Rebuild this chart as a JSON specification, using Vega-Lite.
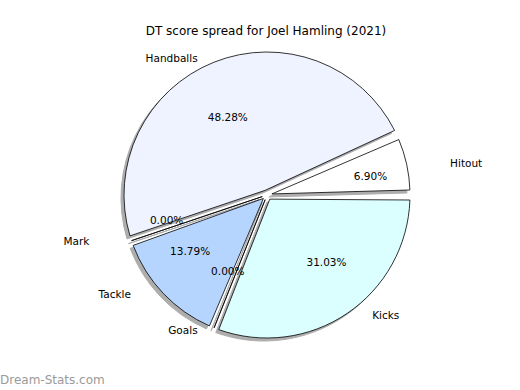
{
  "$schema": "https://vega.github.io/schema/vega-lite/v6.json",
  "background": "white",
  "padding": {"left": 0, "right": 0, "top": 25, "bottom": 0},
  "title": {"text": "DT score spread for Joel Hamling (2021)", "font": "DejaVu Sans", "fontSize": 12, "fontWeight": "normal", "color": "black", "anchor": "middle", "offset": 8, "dx": 6},
  "config": {"view": {"stroke": null}, "concat": {"spacing": 0}},
  "vconcat": [
    {
      "width": 520,
      "height": 298,
      "title": {"text": "Dream-Stats.com", "orient": "bottom", "anchor": "start", "font": "DejaVu Sans", "fontSize": 12, "fontWeight": "normal", "color": "#9a9a9a", "offset": 31},
      "data": {
        "values": [
          {"label": "Hitout", "value": 2, "pct": "6.90%", "ord": 1},
          {"label": "Handballs", "value": 14, "pct": "48.28%", "ord": 2},
          {"label": "Mark", "value": 0, "pct": "0.00%", "ord": 3},
          {"label": "Tackle", "value": 4, "pct": "13.79%", "ord": 4},
          {"label": "Goals", "value": 0, "pct": "0.00%", "ord": 5},
          {"label": "Kicks", "value": 9, "pct": "31.03%", "ord": 6}
        ]
      },
      "transform": [
        {"stack": "value", "groupby": [], "sort": [{"field": "ord", "order": "ascending"}], "as": ["t0", "t1"]},
        {"joinaggregate": [{"op": "sum", "field": "value", "as": "total"}]},
        {"calculate": "2 * PI * (datum.t0 + datum.t1) / 2 / datum.total", "as": "ang"},
        {"calculate": "1.15 * cos(datum.ang)", "as": "lx"},
        {"calculate": "1.15 * sin(datum.ang)", "as": "ly"},
        {"calculate": "0.65 * cos(datum.ang)", "as": "px"},
        {"calculate": "0.65 * sin(datum.ang)", "as": "py"}
      ],
      "layer": [
        {
          "mark": {"type": "arc", "outerRadius": 143, "innerRadius": 5, "padAngle": 0.07, "xOffset": 4, "yOffset": 3, "fill": "#777777", "stroke": "#777777", "strokeWidth": 1, "opacity": 0.6},
          "encoding": {
            "theta": {"field": "t0", "type": "quantitative", "scale": {"domain": [0, 29], "range": [1.5708, -4.7124]}},
            "theta2": {"field": "t1"}
          }
        },
        {
          "mark": {"type": "arc", "outerRadius": 143, "innerRadius": 5, "padAngle": 0.07, "xOffset": 7, "stroke": "black", "strokeWidth": 0.8},
          "encoding": {
            "theta": {"field": "t0", "type": "quantitative", "scale": {"domain": [0, 29], "range": [1.5708, -4.7124]}},
            "theta2": {"field": "t1"},
            "color": {"field": "label", "type": "nominal", "legend": null,
              "scale": {"domain": ["Hitout", "Handballs", "Mark", "Tackle", "Goals", "Kicks"], "range": ["#ffffff", "#eef3ff", "#ffffff", "#b5d5ff", "#ffffff", "#dbffff"]}}
          }
        },
        {
          "mark": {"type": "text", "font": "DejaVu Sans", "fontSize": 10.5, "color": "black", "align": "center", "baseline": "middle"},
          "encoding": {
            "x": {"field": "px", "type": "quantitative", "axis": null, "scale": {"domain": [-1.638, 1.552], "nice": false, "zero": false}},
            "y": {"field": "py", "type": "quantitative", "axis": null, "scale": {"domain": [-1.1732, 1.1732], "nice": false, "zero": false}},
            "text": {"field": "pct", "type": "nominal"}
          }
        },
        {
          "transform": [{"filter": "datum.lx < 0"}],
          "mark": {"type": "text", "font": "DejaVu Sans", "fontSize": 10.5, "color": "black", "align": "right", "baseline": "middle"},
          "encoding": {
            "x": {"field": "lx", "type": "quantitative", "axis": null, "scale": {"domain": [-1.638, 1.552], "nice": false, "zero": false}},
            "y": {"field": "ly", "type": "quantitative", "axis": null, "scale": {"domain": [-1.1732, 1.1732], "nice": false, "zero": false}},
            "text": {"field": "label", "type": "nominal"}
          }
        },
        {
          "transform": [{"filter": "datum.lx >= 0"}],
          "mark": {"type": "text", "font": "DejaVu Sans", "fontSize": 10.5, "color": "black", "align": "left", "baseline": "middle"},
          "encoding": {
            "x": {"field": "lx", "type": "quantitative", "axis": null, "scale": {"domain": [-1.638, 1.552], "nice": false, "zero": false}},
            "y": {"field": "ly", "type": "quantitative", "axis": null, "scale": {"domain": [-1.1732, 1.1732], "nice": false, "zero": false}},
            "text": {"field": "label", "type": "nominal"}
          }
        }
      ]
    }
  ]
}
